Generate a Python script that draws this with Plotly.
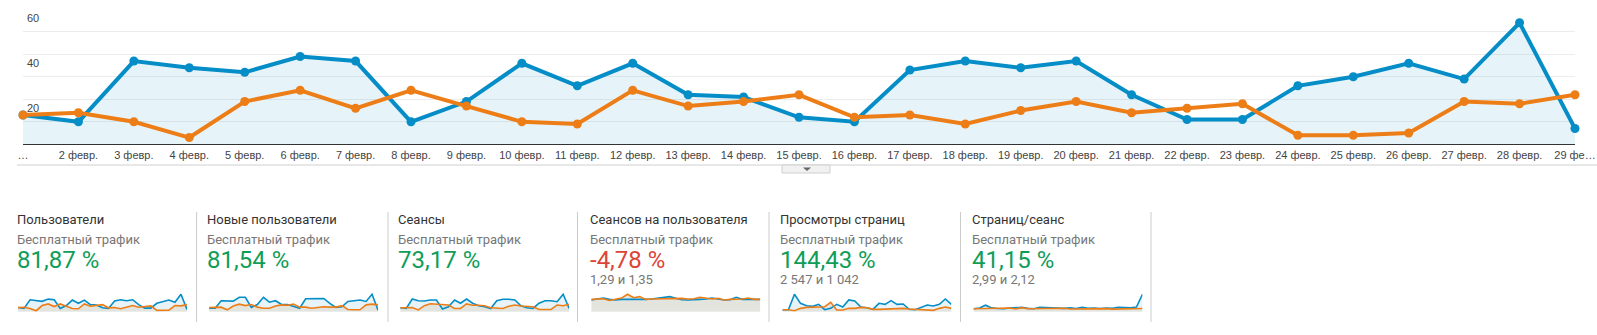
import plotly.graph_objects as go

W, H = 1597, 335

# Daily series for February (two segments)
day_labels = ["…"] + [f"{d} февр." for d in range(2, 29)] + ["29 фе…"]
users_a = [13, 10, 37, 34, 32, 39, 37, 10, 19, 36, 26, 36, 22, 21, 12, 10,
           33, 37, 34, 37, 22, 11, 11, 26, 30, 36, 29, 54, 7]
users_b = [13, 14, 10, 3, 19, 24, 16, 24, 17, 10, 9, 24, 17, 19, 22, 12,
           13, 9, 15, 19, 14, 16, 18, 4, 4, 5, 19, 18, 22]

new_users_a = [9, 9, 29, 28, 28, 38, 38, 11, 19, 38, 25, 29, 19, 19, 13, 9,
               34, 35, 35, 35, 22, 11, 13, 27, 29, 31, 27, 46, 4]
new_users_b = [11, 12, 12, 5, 15, 20, 16, 19, 12, 9, 9, 15, 18, 17, 20, 12,
               12, 9, 11, 13, 12, 12, 16, 6, 5, 5, 18, 20, 18]

sessions_a = [16, 13, 51, 44, 43, 47, 47, 11, 20, 47, 34, 51, 34, 24, 20, 13,
              44, 50, 50, 47, 24, 16, 13, 34, 44, 44, 40, 70, 13]
sessions_b = [16, 17, 17, 7, 24, 32, 31, 30, 27, 13, 13, 31, 26, 26, 24, 16,
              16, 13, 22, 27, 23, 20, 20, 9, 9, 9, 27, 24, 30]

spu_a = [1.23, 1.30, 1.44, 1.30, 1.23, 1.30, 1.30, 1.26, 1.30, 1.30, 1.34, 1.41,
         1.48, 1.59, 1.41, 1.26, 1.23, 1.23, 1.30, 1.34, 1.44, 1.34, 1.23, 1.26,
         1.52, 1.30, 1.30, 1.34, 1.30]
spu_b = [1.30, 1.37, 1.37, 1.19, 1.30, 1.44, 1.84, 1.48, 1.59, 1.30, 1.34, 1.37,
         1.37, 1.37, 1.44, 1.41, 1.34, 1.37, 1.52, 1.41, 1.34, 1.41, 1.23, 1.30,
         1.30, 1.34, 1.44, 1.30, 1.30]

pageviews_a = [26, 26, 229, 110, 79, 70, 97, 26, 44, 97, 62, 154, 141, 62, 53, 31,
               110, 97, 145, 97, 101, 31, 26, 57, 88, 75, 97, 167, 97]
pageviews_b = [26, 26, 13, 44, 57, 62, 62, 66, 123, 22, 22, 44, 44, 57, 53, 31,
               31, 35, 35, 35, 44, 35, 31, 26, 26, 18, 44, 62, 44]

pps_a = [2.0, 2.5, 4.5, 2.6, 2.2, 2.0, 2.5, 2.7, 3.0, 2.3, 2.0, 3.1, 2.8, 2.5, 2.6,
         2.3, 2.6, 2.2, 3.0, 2.4, 2.5, 2.2, 2.5, 2.4, 3.0, 2.6, 2.7, 3.2, 12.0]
pps_b = [2.0, 2.1, 1.8, 2.4, 2.2, 2.3, 2.5, 1.9, 2.8, 2.0, 2.1, 2.2, 2.3, 2.0, 2.1,
         2.4, 1.9, 2.0, 2.2, 2.1, 2.3, 2.0, 2.1, 1.8, 1.9, 2.0, 2.3, 2.4, 2.2]

metric_titles = ["Пользователи", "Новые пользователи", "Сеансы",
                 "Сеансов на пользователя", "Просмотры страниц", "Страниц/сеанс"]
metric_segment = "Бесплатный трафик"
metric_change = ["81,87 %", "81,54 %", "73,17 %", "-4,78 %", "144,43 %", "41,15 %"]
metric_totals = ["", "", "", "1,29 и 1,35", "2 547 и 1 042", "2,99 и 2,12"]
spark_series = [(users_a, users_b), (new_users_a, new_users_b), (sessions_a, sessions_b),
                (spu_a, spu_b), (pageviews_a, pageviews_b), (pps_a, pps_b)]

BLUE = "#058dc7"
ORANGE = "#ed7e17"
BLUE_FILL = "rgba(5,141,199,0.1)"
GRAY_FILL = "#e3e4de"
GREEN = "#0f9d58"
RED = "#db4437"


def px_x(p):
    return p / W


def px_y(p):
    return 1 - p / H


x_idx = list(range(len(day_labels)))
fig = go.Figure()

# Main chart: fill first, then lines so the orange line stays on top
fig.add_trace(go.Scatter(x=x_idx, y=users_a, mode="none", fill="tozeroy",
                         fillcolor=BLUE_FILL, hoverinfo="skip", xaxis="x", yaxis="y"))
fig.add_trace(go.Scatter(x=x_idx, y=users_a, mode="lines+markers",
                         line=dict(color=BLUE, width=4), marker=dict(color=BLUE, size=9),
                         cliponaxis=False, xaxis="x", yaxis="y"))
fig.add_trace(go.Scatter(x=x_idx, y=users_b, mode="lines+markers",
                         line=dict(color=ORANGE, width=4), marker=dict(color=ORANGE, size=9),
                         cliponaxis=False, xaxis="x", yaxis="y"))

layout = dict(
    width=W, height=H, margin=dict(l=0, r=0, t=0, b=0, pad=0, autoexpand=False),
    paper_bgcolor="white", plot_bgcolor="white", showlegend=False,
    xaxis=dict(domain=[px_x(23), px_x(1575)], range=[0, 28], tickvals=x_idx,
               ticktext=day_labels, showgrid=False, zeroline=False, automargin=False,
               showline=True, linecolor="#333333", linewidth=1, ticks="",
               tickfont=dict(family="Liberation Sans, Arial", size=11, color="#444444")),
    yaxis=dict(domain=[px_y(144.3), px_y(9.3)], range=[0, 60], dtick=10,
               showgrid=True, gridcolor="#ececec", gridwidth=1, zeroline=False,
               showticklabels=False, automargin=False),
)

annotations = []
for v in (20, 40, 60):
    annotations.append(dict(x=px_x(24.5), xref="paper", y=v, yref="y", text=str(v),
                            showarrow=False, xanchor="left", yanchor="top", yshift=-1,
                            font=dict(family="Liberation Sans, Arial", size=11, color="#444444")))

shapes = [
    dict(type="line", xref="paper", yref="paper", x0=px_x(17), x1=1, y0=px_y(165), y1=px_y(165),
         line=dict(color="#d0d0d0", width=1)),
    dict(type="rect", xref="paper", yref="paper", x0=px_x(782), x1=px_x(830),
         y0=px_y(173), y1=px_y(165), fillcolor="#f1f1f1", line=dict(color="#cfcfcf", width=1)),
    dict(type="path", xref="paper", yref="paper",
         path=f"M {px_x(803)} {px_y(167.5)} L {px_x(811)} {px_y(167.5)} L {px_x(807)} {px_y(171)} Z",
         fillcolor="#666666", line=dict(width=0)),
]

panel_text_x = [14.5, 205, 396.4, 587.9, 778.4, 969.8]
divider_x = [196.6, 388, 577.5, 769, 960.5, 1151]
spark_x0 = [18, 209.1, 400.2, 591.3, 782.4, 973.5]
spark_w = 169

for i in range(6):
    tx = px_x(panel_text_x[i])
    annotations.append(dict(x=tx, y=px_y(219.5), xref="paper", yref="paper", text=metric_titles[i],
                            showarrow=False, xanchor="left", yanchor="middle",
                            font=dict(family="Roboto", size=13, color="#333333")))
    annotations.append(dict(x=tx, y=px_y(239), xref="paper", yref="paper", text=metric_segment,
                            showarrow=False, xanchor="left", yanchor="middle",
                            font=dict(family="Roboto", size=13, color="#777777")))
    color = RED if metric_change[i].startswith("-") else GREEN
    annotations.append(dict(x=tx, y=px_y(260), xref="paper", yref="paper", text=metric_change[i],
                            showarrow=False, xanchor="left", yanchor="middle",
                            font=dict(family="Roboto", size=24, color=color)))
    if metric_totals[i]:
        annotations.append(dict(x=tx, y=px_y(279), xref="paper", yref="paper", text=metric_totals[i],
                                showarrow=False, xanchor="left", yanchor="middle",
                                font=dict(family="Roboto", size=13, color="#777777")))
    shapes.append(dict(type="line", xref="paper", yref="paper",
                       x0=px_x(divider_x[i]), x1=px_x(divider_x[i]),
                       y0=px_y(212), y1=px_y(322), line=dict(color="#cccccc", width=1)))

    # Sparkline for the metric
    n = i + 2
    xa, ya = f"x{n}", f"y{n}"
    a, b = spark_series[i]
    top = max(max(a), max(b)) * 1.13
    fig.add_trace(go.Scatter(x=x_idx, y=a, mode="none", fill="tozeroy", fillcolor=BLUE_FILL,
                             hoverinfo="skip", xaxis=xa, yaxis=ya))
    fig.add_trace(go.Scatter(x=x_idx, y=b, mode="none", fill="tozeroy", fillcolor=GRAY_FILL,
                             hoverinfo="skip", xaxis=xa, yaxis=ya))
    fig.add_trace(go.Scatter(x=x_idx, y=a, mode="lines", line=dict(color=BLUE, width=1.6),
                             xaxis=xa, yaxis=ya))
    fig.add_trace(go.Scatter(x=x_idx, y=b, mode="lines", line=dict(color=ORANGE, width=1.6),
                             xaxis=xa, yaxis=ya))
    layout[f"xaxis{n}"] = dict(domain=[px_x(spark_x0[i]), px_x(spark_x0[i] + spark_w)],
                               range=[0, 28], visible=False, anchor=ya, automargin=False)
    layout[f"yaxis{n}"] = dict(domain=[px_y(311.7), px_y(292)], range=[0, top],
                               visible=False, anchor=xa, automargin=False)

layout["annotations"] = annotations
layout["shapes"] = shapes
fig.update_layout(**layout)

fig.write_html("out.html")
